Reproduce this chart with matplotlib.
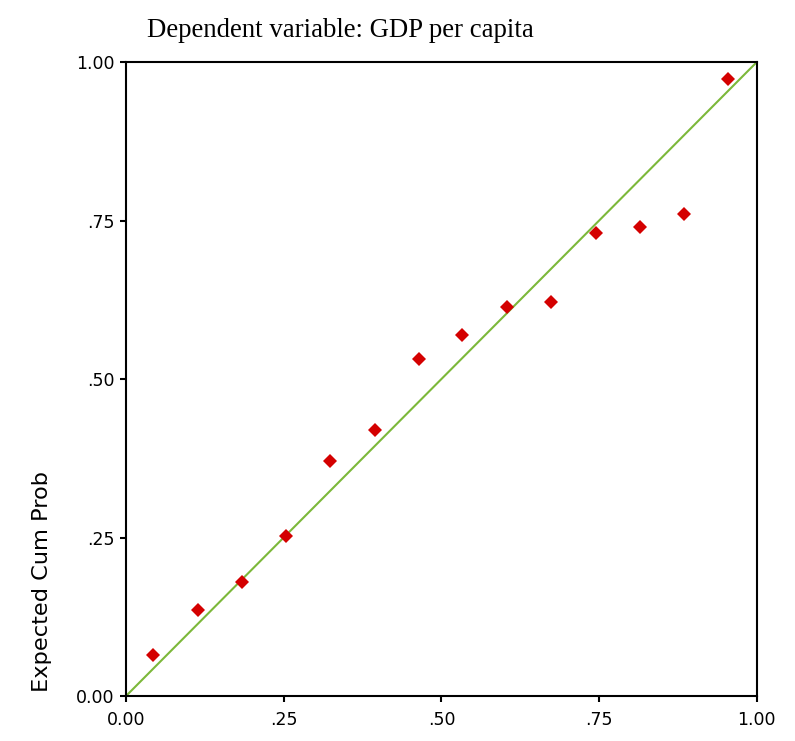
import matplotlib
matplotlib.use('Agg')
import matplotlib.pyplot as plt

observed = [0.043, 0.114, 0.184, 0.254, 0.324, 0.394, 0.464, 0.533,
            0.604, 0.674, 0.745, 0.815, 0.884, 0.955]
expected = [0.065, 0.136, 0.180, 0.253, 0.371, 0.419, 0.531, 0.569,
            0.613, 0.621, 0.730, 0.739, 0.761, 0.973]
ticks = [0.0, 0.25, 0.5, 0.75, 1.0]
tick_labels = ['0.00', '.25', '.50', '.75', '1.00']
title = 'Dependent variable: GDP per capita'
ylabel = 'Expected Cum Prob'

fig = plt.figure(figsize=(7.95, 7.41), dpi=100)
ax = fig.add_axes([0.1585, 0.0607, 0.7935, 0.8556])

ax.plot([0, 1], [0, 1], color='#7cb83a', lw=1.5, zorder=2)
ax.plot(observed, expected, 'D', color='#d40000', markersize=7,
        markeredgewidth=0, zorder=3, clip_on=False)

ax.set_xlim(0, 1)
ax.set_ylim(0, 1)
ax.set_xticks(ticks)
ax.set_xticklabels(tick_labels)
ax.set_yticks(ticks)
ax.set_yticklabels(tick_labels)
ax.tick_params(direction='out', length=4.5, width=1.5, labelsize=12.5,
               color='black')
ax.tick_params(axis='x', pad=6)
ax.tick_params(axis='y', pad=4)
for s in ax.spines.values():
    s.set_linewidth(1.5)

fig.text(0.428, 0.950, title, ha='center', va='baseline',
         family='Liberation Serif', fontsize=19.3)
fig.text(42 / 795, 1 - 581 / 741, ylabel, rotation=90, ha='center',
         va='center', fontsize=16.2)

plt.savefig('out.png', dpi=100)
